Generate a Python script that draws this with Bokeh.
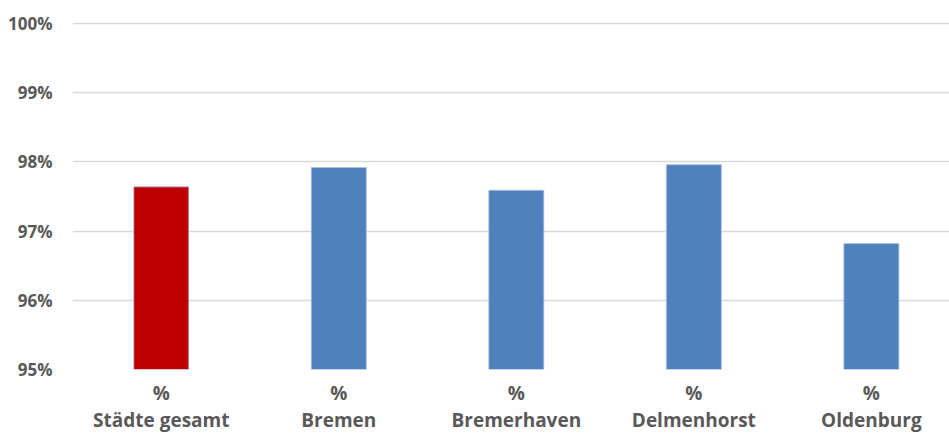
from bokeh.plotting import figure
from bokeh.models import FixedTicker, ColumnDataSource
from bokeh.embed import file_html
from bokeh.resources import INLINE

# Anteil je Stadt (in %)
cities = ["Städte gesamt", "Bremen", "Bremerhaven", "Delmenhorst", "Oldenburg"]
shares = [97.64, 97.92, 97.59, 97.96, 96.82]
bar_colors = ["#C00000", "#4F81BD", "#4F81BD", "#4F81BD", "#4F81BD"]
y_ticks = [95, 96, 97, 98, 99, 100]

xs = list(range(len(cities)))
src = ColumnDataSource(dict(x=xs, top=shares, color=bar_colors))

p = figure(width=949, height=435, output_backend="svg", toolbar_location=None,
           x_range=(-0.5, 4.44), y_range=(95, 100.03),
           min_border_left=72, min_border_right=0, min_border_top=21, min_border_bottom=60)
p.outline_line_color = None
p.background_fill_color = "white"

p.vbar(x="x", top="top", bottom=95, width=0.31, fill_color="color",
       line_color="#A9C4E6", line_width=0.8, source=src)

label_font = "Open Sans"
grey = "#595959"

# y axis
p.yaxis.ticker = FixedTicker(ticks=y_ticks)
p.yaxis.major_label_overrides = {t: f"{t}%" for t in y_ticks}
p.yaxis.axis_line_color = None
p.yaxis.major_tick_line_color = None
p.yaxis.minor_tick_line_color = None
p.yaxis.major_label_standoff = 14
p.yaxis.major_label_text_font = label_font
p.yaxis.major_label_text_font_style = "bold"
p.yaxis.major_label_text_font_size = "17px"
p.yaxis.major_label_text_color = grey
p.ygrid.grid_line_color = "#D9D9D9"
p.ygrid.grid_line_width = 1.5
p.ygrid.ticker = FixedTicker(ticks=y_ticks)

# x axis with two-line category labels
p.xaxis.ticker = FixedTicker(ticks=xs)
p.xaxis.major_label_overrides = {i: "%\n" + c for i, c in enumerate(cities)}
p.xaxis.axis_line_color = None
p.xaxis.major_tick_line_color = None
p.xaxis.minor_tick_line_color = None
p.xaxis.major_label_standoff = 4
p.xaxis.major_label_text_font = label_font
p.xaxis.major_label_text_font_style = "bold"
p.xaxis.major_label_text_font_size = "19px"
p.xaxis.major_label_text_color = grey
p.xaxis.major_label_text_line_height = 1.05
p.xgrid.grid_line_color = None

open("out.html", "w").write(file_html(p, INLINE))
